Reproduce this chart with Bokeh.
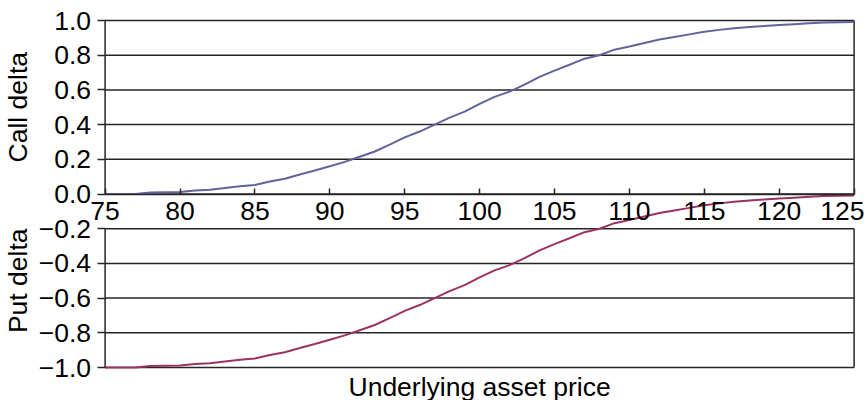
import math
from bokeh.plotting import figure
from bokeh.models import Range1d, FixedTicker, CustomJSTickFormatter, Label
from bokeh.embed import file_html
from bokeh.resources import INLINE

# ---- data ----
prices = list(range(75, 126))
call_delta = [0.0, 0.0, 0.0, 0.008, 0.010, 0.012, 0.020, 0.025, 0.035, 0.044,
              0.052, 0.072, 0.088, 0.112, 0.135, 0.160, 0.185, 0.215, 0.245, 0.285,
              0.326, 0.360, 0.400, 0.440, 0.475, 0.519, 0.560, 0.590, 0.630, 0.675,
              0.711, 0.745, 0.780, 0.800, 0.832, 0.850, 0.870, 0.890, 0.905, 0.920,
              0.935, 0.946, 0.956, 0.963, 0.968, 0.974, 0.979, 0.984, 0.988, 0.990,
              0.991]
put_delta = [-1.0, -1.0, -1.0, -0.992, -0.990, -0.988, -0.980, -0.975, -0.965, -0.956,
             -0.948, -0.928, -0.912, -0.888, -0.865, -0.840, -0.815, -0.785, -0.755, -0.715,
             -0.674, -0.640, -0.600, -0.560, -0.525, -0.481, -0.440, -0.410, -0.370, -0.325,
             -0.289, -0.255, -0.220, -0.200, -0.168, -0.150, -0.130, -0.110, -0.095, -0.080,
             -0.065, -0.054, -0.044, -0.037, -0.032, -0.026, -0.021, -0.016, -0.012, -0.010,
             -0.009]
x_ticks = [75, 80, 85, 90, 95, 100, 105, 110, 115, 120, 125]
y_ticks = [-1.0, -0.8, -0.6, -0.4, -0.2, 0.0, 0.2, 0.4, 0.6, 0.8, 1.0]
upper_label = "Call delta"
lower_label = "Put delta"
x_label = "Underlying asset price"

FONT = "Liberation Sans"
FS = "26.5px"
LINE = "#262626"

W, H = 864, 400
x_lo, x_hi = x_ticks[0], x_ticks[-1]
y_lo, y_hi = y_ticks[0], y_ticks[-1]

# pixel layout of the plotting area inside the canvas
PX_L, PX_R, PX_T, PX_B = 104.6, 853.6, 20.0, 367.0
sx = (PX_R - PX_L) / (x_hi - x_lo)
sy = (PX_B - PX_T) / (y_hi - y_lo)
xr = Range1d(x_lo - PX_L / sx, x_lo - PX_L / sx + W / sx)
yr = Range1d(y_hi + PX_T / sy - H / sy, y_hi + PX_T / sy)

p = figure(width=W, height=H, output_backend="svg", toolbar_location=None,
           x_range=xr, y_range=yr, min_border=0)
p.title.visible = False
p.outline_line_color = None
p.background_fill_color = "white"
p.border_fill_color = "white"
p.xgrid.visible = False
p.ygrid.visible = False

# horizontal grid lines at the y ticks, between the two sides
p.segment(x0=[x_lo] * len(y_ticks), x1=[x_hi] * len(y_ticks), y0=y_ticks, y1=y_ticks,
          line_color=LINE, line_width=1.5)

# broken frame sides: upper panel (0..1) and lower panel (-1..-0.2)
gap_top = 0.0
gap_bottom = y_ticks[4]
p.segment(x0=[x_lo, x_lo, x_hi, x_hi], y0=[gap_top, y_lo, gap_top, y_lo],
          x1=[x_lo, x_lo, x_hi, x_hi], y1=[y_hi, gap_bottom, y_hi, gap_bottom],
          line_color=LINE, line_width=1.5)

# y axis fixed at x = 75
yax = p.yaxis[0]
yax.fixed_location = x_lo
yax.ticker = FixedTicker(ticks=y_ticks)
yax.formatter = CustomJSTickFormatter(code="return tick.toFixed(1).replace('-', '\u2212');")
yax.axis_line_color = None
yax.major_tick_line_color = LINE
yax.major_tick_line_width = 1.5
yax.major_tick_out = 8
yax.major_tick_in = 0
yax.minor_tick_line_color = None
yax.major_label_standoff = 6
yax.major_label_text_font = FONT
yax.major_label_text_font_size = FS
yax.major_label_text_color = "black"

# x axis on the zero line
xax = p.xaxis[0]
xax.fixed_location = 0
xax.bounds = (x_lo, x_hi)
xax.ticker = FixedTicker(ticks=x_ticks)
xax.axis_line_color = LINE
xax.axis_line_width = 1.5
xax.major_tick_line_color = LINE
xax.major_tick_line_width = 1.5
xax.major_tick_in = 6
xax.major_tick_out = 0
xax.minor_tick_line_color = None
xax.major_label_standoff = 8
xax.major_label_text_font = FONT
xax.major_label_text_font_size = FS
xax.major_label_text_color = "black"

# curves
p.line(prices, call_delta, line_color="#62629c", line_width=2)
p.line(prices, put_delta, line_color="#9b3266", line_width=2)

# axis titles
lab_x = x_lo - (PX_L - 17) / sx
p.add_layout(Label(x=lab_x, y=(y_hi + 0.0) / 2, text=upper_label, angle=math.pi / 2,
                   text_align="center", text_baseline="middle", text_font=FONT,
                   text_font_size=FS, text_color="black"))
p.add_layout(Label(x=lab_x, y=(y_lo + 0.0) / 2, text=lower_label, angle=math.pi / 2,
                   text_align="center", text_baseline="middle", text_font=FONT,
                   text_font_size=FS, text_color="black"))
p.add_layout(Label(x=(x_lo + x_hi) / 2, y=y_lo - (386 - PX_B) / sy, text=x_label,
                   text_align="center", text_baseline="middle", text_font=FONT,
                   text_font_size=FS, text_color="black"))

open("out.html", "w").write(file_html(p, INLINE))
